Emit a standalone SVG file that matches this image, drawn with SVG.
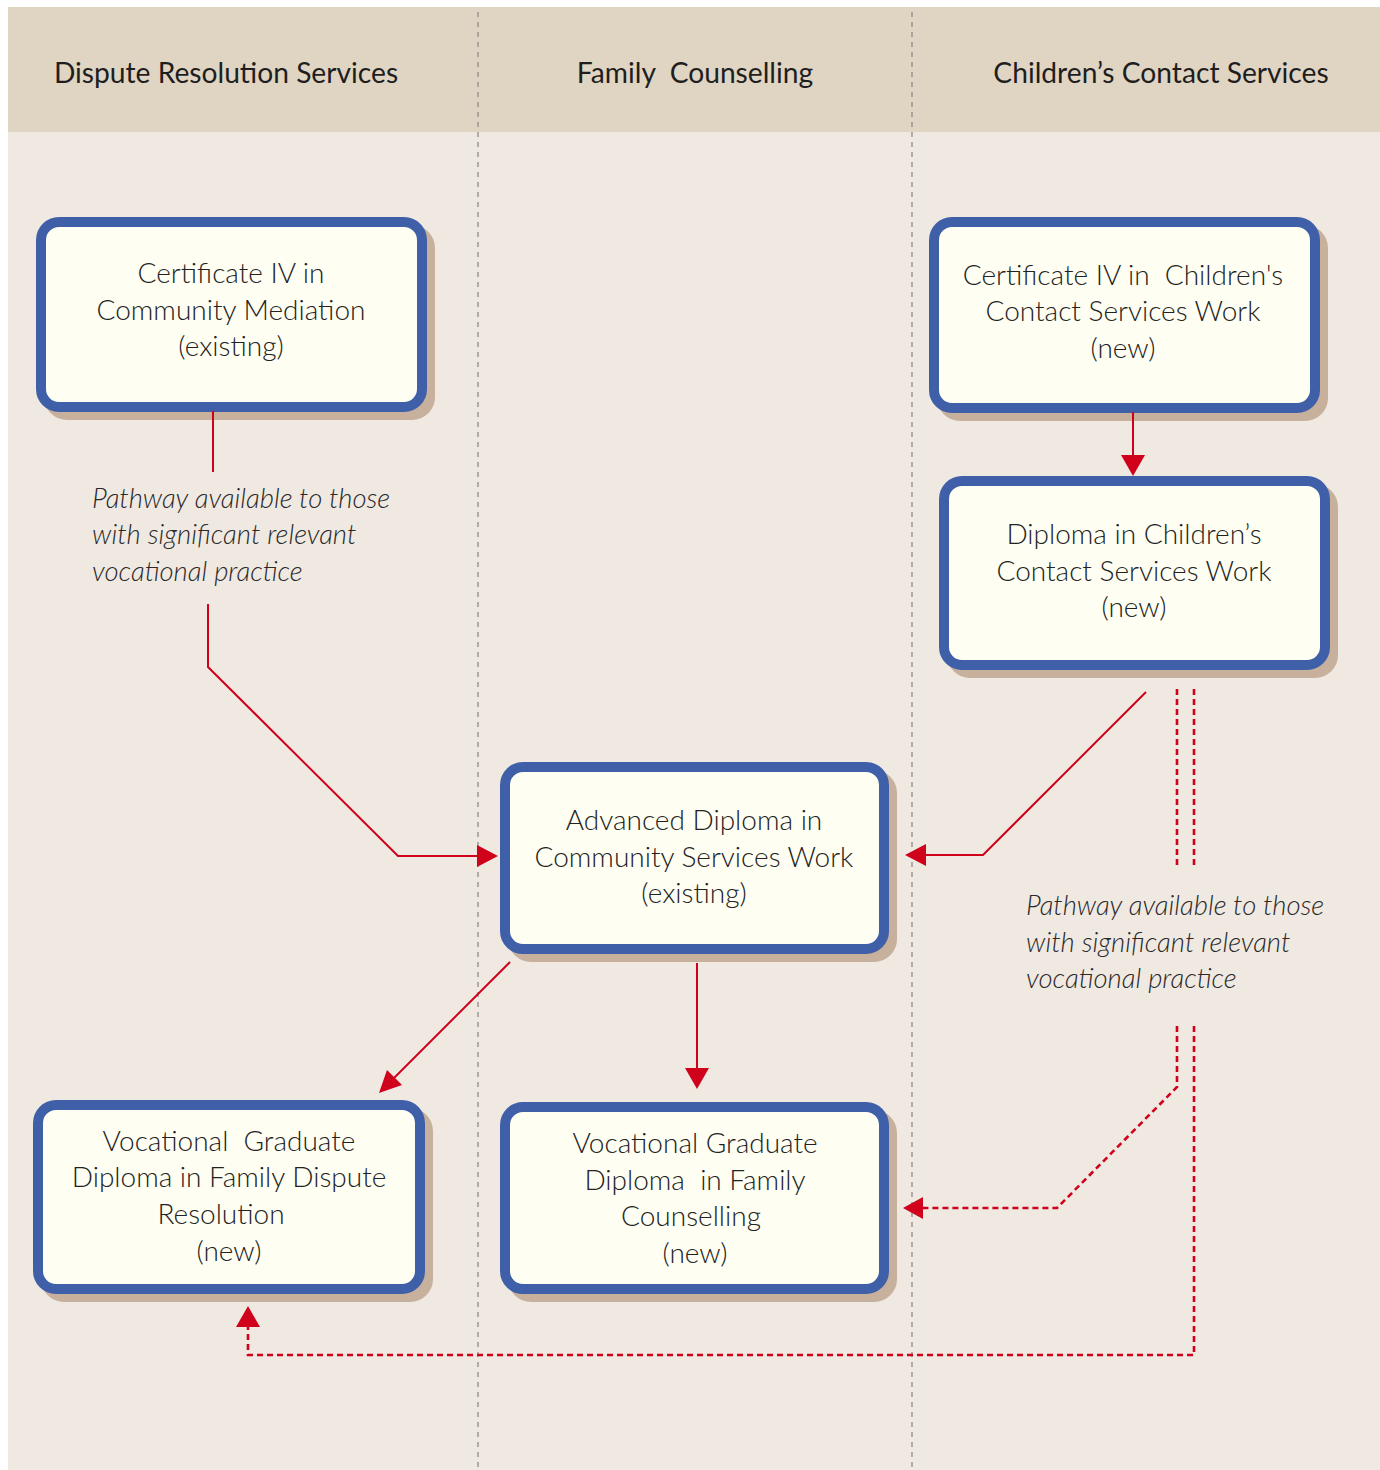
<svg xmlns="http://www.w3.org/2000/svg" width="1380" height="1470" viewBox="0 0 1380 1470">
<style>
.hdr{font-family:Lato,"Gill Sans","Liberation Sans",sans-serif;font-size:28.2px;fill:#1e1e1e;text-anchor:middle}
.nt{font-family:Lato,"Gill Sans","Liberation Sans",sans-serif;font-weight:300;font-size:28px;fill:#222;text-anchor:middle}
.it{font-family:Lato,"Gill Sans","Liberation Sans",sans-serif;font-weight:300;font-style:italic;font-size:27.5px;fill:#2a2a2a}
.box{fill:#fefef2;stroke:#3f5fa8;stroke-width:10}
.sh{fill:#c7b09c;stroke:#c7b09c;stroke-width:10}
.ln{fill:none;stroke:#d0021b;stroke-width:2}
.dl{fill:none;stroke:#d0021b;stroke-width:2.6;stroke-dasharray:6 4}
.div{stroke:#8c8c8c;stroke-width:1.3;stroke-dasharray:5 5}
.ah{fill:#d0021b}
</style>
<rect x="8" y="7" width="1372" height="1463" fill="#f0e9e2"/>
<rect x="8" y="7" width="1372" height="125" fill="#e0d4c3"/>
<line class="div" x1="478" y1="12" x2="478" y2="1470"/>
<line class="div" x1="912" y1="12" x2="912" y2="1470"/>
<text class="hdr" x="226" y="83">Dispute Resolution Services</text>
<text class="hdr" x="695" y="83" xml:space="preserve">Family  Counselling</text>
<text class="hdr" x="1161" y="83">Children’s Contact Services</text>

<g id="n1">
<rect class="sh" x="49" y="230" width="381" height="185" rx="18"/>
<rect class="box" x="41" y="222" width="381" height="185" rx="18"/>
<text class="nt" x="231" y="283">Certificate IV in</text>
<text class="nt" x="231" y="320">Community Mediation</text>
<text class="nt" x="231" y="356">(existing)</text>
</g>
<g id="n2">
<rect class="sh" x="942" y="230" width="381" height="186" rx="18"/>
<rect class="box" x="934" y="222" width="381" height="186" rx="18"/>
<text class="nt" x="1123" y="285" xml:space="preserve">Certificate IV in  Children's</text>
<text class="nt" x="1123" y="321">Contact Services Work</text>
<text class="nt" x="1123" y="358">(new)</text>
</g>
<g id="n3">
<rect class="sh" x="952" y="489" width="381" height="184" rx="18"/>
<rect class="box" x="944" y="481" width="381" height="184" rx="18"/>
<text class="nt" x="1134" y="544">Diploma in Children’s</text>
<text class="nt" x="1134" y="581">Contact Services Work</text>
<text class="nt" x="1134" y="617">(new)</text>
</g>
<g id="n4">
<rect class="sh" x="513" y="775" width="379" height="182" rx="18"/>
<rect class="box" x="505" y="767" width="379" height="182" rx="18"/>
<text class="nt" x="694" y="830">Advanced Diploma in</text>
<text class="nt" x="694" y="867">Community Services Work</text>
<text class="nt" x="694" y="903">(existing)</text>
</g>
<g id="n5">
<rect class="sh" x="46" y="1113" width="382" height="184" rx="18"/>
<rect class="box" x="38" y="1105" width="382" height="184" rx="18"/>
<text class="nt" x="229" y="1151" xml:space="preserve">Vocational  Graduate</text>
<text class="nt" x="229" y="1187">Diploma in Family Dispute</text>
<text class="nt" x="221" y="1224">Resolution</text>
<text class="nt" x="229" y="1261">(new)</text>
</g>
<g id="n6">
<rect class="sh" x="513" y="1115" width="379" height="182" rx="18"/>
<rect class="box" x="505" y="1107" width="379" height="182" rx="18"/>
<text class="nt" x="695" y="1153">Vocational Graduate</text>
<text class="nt" x="695" y="1190" xml:space="preserve">Diploma  in Family</text>
<text class="nt" x="691" y="1226">Counselling</text>
<text class="nt" x="695" y="1263">(new)</text>
</g>

<g id="labels">
<text class="it" x="92" y="508">Pathway available to those</text>
<text class="it" x="92" y="544">with significant relevant</text>
<text class="it" x="92" y="581">vocational practice</text>
<text class="it" x="1026" y="915">Pathway available to those</text>
<text class="it" x="1026" y="952">with significant relevant</text>
<text class="it" x="1026" y="988">vocational practice</text>
</g>

<g id="connectors">
<line class="ln" x1="213" y1="411" x2="213" y2="472"/>
<polyline class="ln" points="208,604 208,667 398,856 480,856"/>
<polygon class="ah" points="498,856 477,845 477,867"/>
<line class="ln" x1="1133" y1="412" x2="1133" y2="458"/>
<polygon class="ah" points="1133,476 1121,455 1145,455"/>
<polyline class="ln" points="1146,692 983,855 922,855"/>
<polygon class="ah" points="905,855 926,844 926,866"/>
<line class="ln" x1="510" y1="962" x2="392" y2="1080"/>
<polygon class="ah" points="379,1093 387,1070 402,1085"/>
<line class="ln" x1="697" y1="963" x2="697" y2="1070"/>
<polygon class="ah" points="697,1089 685,1068 709,1068"/>
<line class="dl" x1="1177" y1="689" x2="1177" y2="865"/>
<line class="dl" x1="1194" y1="689" x2="1194" y2="865"/>
<polyline class="dl" points="1177,1026 1177,1087 1057,1208 922,1208"/>
<polygon class="ah" points="903,1208 923,1197 923,1219"/>
<polyline class="dl" points="1194,1026 1194,1355 248,1355 248,1326"/>
<polygon class="ah" points="248,1306 236,1327 260,1327"/>
</g>
</svg>
